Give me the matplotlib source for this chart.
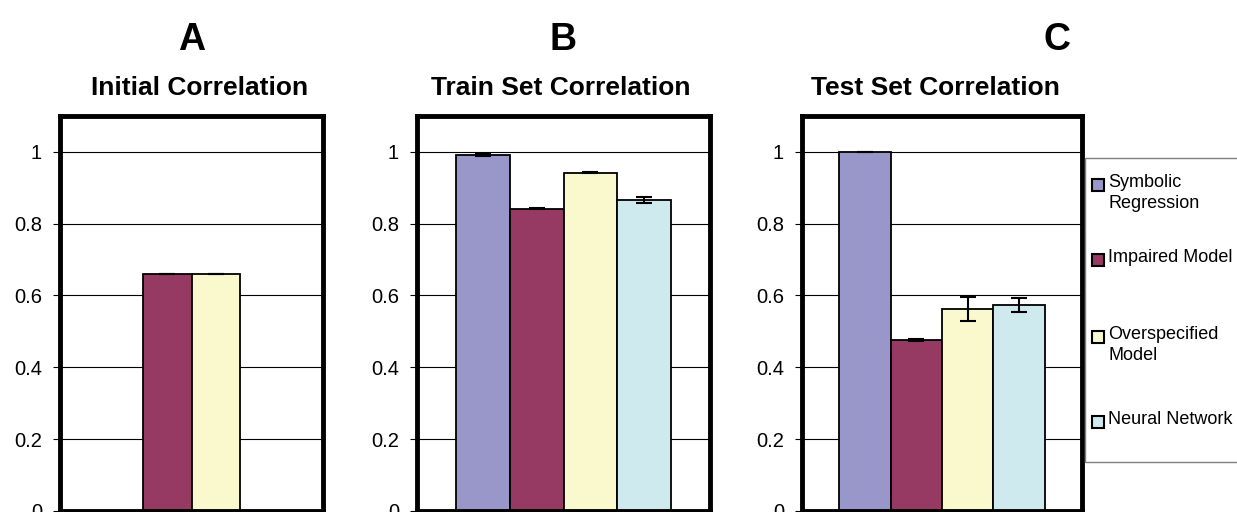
import matplotlib
matplotlib.use("Agg")
import matplotlib.pyplot as plt
from matplotlib.patches import Rectangle

plt.rcParams["font.family"] = ["Liberation Sans", "DejaVu Sans"]

W, H = 1237, 512

# data
series_names = ["Symbolic\nRegression", "Impaired Model", "Overspecified\nModel", "Neural Network"]
series_colors = ["#9997C9", "#963A64", "#FAF8CD", "#CEEAEF"]

initial_idx = [1, 2]
initial_vals = [0.66, 0.66]
initial_err = [0.0, 0.0]

train_vals = [0.991, 0.842, 0.942, 0.866]
train_err = [0.002, 0.001, 0.001, 0.009]

test_vals = [1.0, 0.476, 0.562, 0.574]
test_err = [0.001, 0.003, 0.033, 0.019]

panel_letters = ["A", "B", "C"]
panel_titles = ["Initial Correlation", "Train Set Correlation", "Test Set Correlation"]
y_ticks = [0, 0.2, 0.4, 0.6, 0.8, 1]
y_tick_labels = ["0", "0.2", "0.4", "0.6", "0.8", "1"]

# layout in pixels
panel_px = [(60, 323), (417, 710), (802, 1082)]
letter_x = [192, 563, 1057]
title_x = [200, 561, 935]
ax_top_px, ax_bottom_px = 116, 510.8
SPAN = 5.46  # axes width in bar widths

fig = plt.figure(figsize=(W / 100, H / 100), dpi=100)

panels = [
    (initial_idx, initial_vals, initial_err),
    ([0, 1, 2, 3], train_vals, train_err),
    ([0, 1, 2, 3], test_vals, test_err),
]

for i, ((l, r), (idx, vals, errs)) in enumerate(zip(panel_px, panels)):
    ax = fig.add_axes([l / W, 1 - ax_bottom_px / H, (r - l) / W, (ax_bottom_px - ax_top_px) / H])
    xs = list(range(len(vals)))
    colors = [series_colors[k] for k in idx]
    ax.bar(xs, vals, width=1.0, color=colors, edgecolor="black", linewidth=1.3, zorder=3)
    ax.errorbar(xs, vals, yerr=errs, fmt="none", ecolor="black", elinewidth=1.5,
                capsize=5.5, capthick=1.5, zorder=4)
    c = (len(vals) - 1) / 2
    ax.set_xlim(c - SPAN / 2, c + SPAN / 2)
    ax.set_ylim(0, 1.1)
    ax.set_yticks(y_ticks)
    ax.set_yticklabels(y_tick_labels)
    ax.set_xticks([])
    ax.yaxis.grid(True, color="black", linewidth=0.8, zorder=0)
    ax.tick_params(axis="y", direction="out", length=5, width=0.8, labelsize=14.5, pad=8)
    for s in ax.spines.values():
        s.set_linewidth(3.5)
        s.set_zorder(5)
    fig.text(letter_x[i] / W, 1 - 40 / H, panel_letters[i], ha="center", va="center",
             fontsize=27, fontweight="bold")
    fig.text(title_x[i] / W, 1 - 88 / H, panel_titles[i], ha="center", va="center",
             fontsize=19, fontweight="bold")

# legend box
fig.add_artist(Rectangle((1085 / W, 1 - 462 / H), 200 / W, (462 - 158) / H,
                         transform=fig.transFigure, facecolor="white",
                         edgecolor="#808080", linewidth=1.0, zorder=1))
legend_y = [185, 260, 337, 422]
for name, col, y in zip(series_names, series_colors, legend_y):
    fig.add_artist(Rectangle((1092 / W, 1 - (y + 6) / H), 12 / W, 12 / H,
                             transform=fig.transFigure, facecolor=col,
                             edgecolor="black", linewidth=1.5, zorder=2))
    fig.text(1108 / W, 1 - (y - 11) / H, name, ha="left", va="top",
             fontsize=13, linespacing=1.3, zorder=3)

fig.savefig("out.png", dpi=100)
